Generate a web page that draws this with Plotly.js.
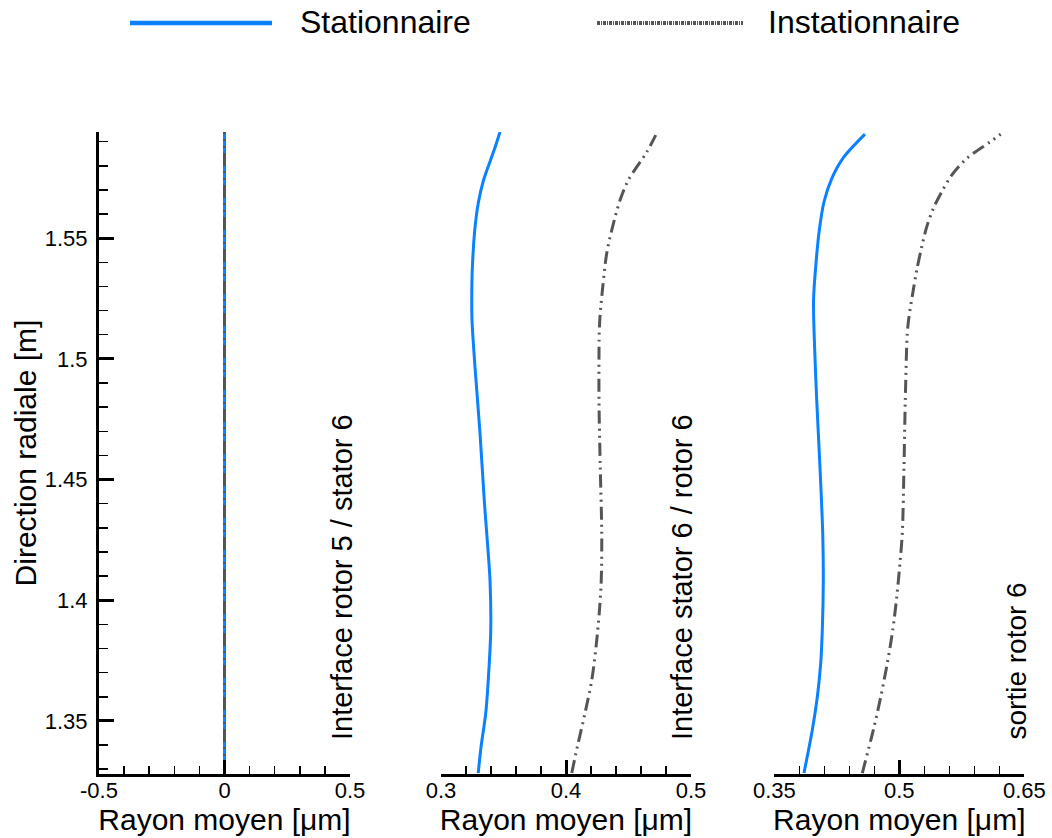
<!DOCTYPE html>
<html>
<head>
<meta charset="utf-8">
<script src="https://cdn.plot.ly/plotly-3.0.1.min.js"></script>
<style>html,body{margin:0;padding:0;background:#fff;}#chart{width:1052px;height:838px;}</style>
</head>
<body>
<div id="chart"></div>
<script>
// Panel 1: Interface rotor 5 / stator 6
const yS1 = [1.328, 1.40, 1.50, 1.594];
const xS1 = [0, 0, 0, 0];
const yU1 = [1.328, 1.40, 1.50, 1.594];
const xU1 = [0, 0, 0, 0];

// Panel 2: Interface stator 6 / rotor 6
const yS2 = [1.3284,1.3391,1.3532,1.3669,1.3876,1.4083,1.4249,1.4415,1.4692,1.4966,1.5160,1.5243,1.5367,1.5533,1.5645,1.5740,1.5865,1.594];
const xS2 = [0.3298,0.3320,0.3358,0.3378,0.3398,0.3392,0.3370,0.3346,0.3312,0.3272,0.3248,0.3246,0.3250,0.3270,0.3298,0.3340,0.3425,0.3472];
const yU2 = [1.3284,1.3391,1.3532,1.3669,1.3806,1.3947,1.4083,1.4278,1.4551,1.4829,1.5106,1.5174,1.5298,1.5438,1.5533,1.5657,1.5740,1.5857,1.5927];
const xU2 = [0.4046,0.4090,0.4152,0.4206,0.4240,0.4266,0.4282,0.4286,0.4274,0.4264,0.4266,0.4272,0.4294,0.4326,0.4366,0.4432,0.4498,0.4646,0.4718];

// Panel 3: sortie rotor 6
const yS3 = [1.3284,1.3462,1.3599,1.3739,1.3876,1.4083,1.4278,1.4551,1.4829,1.5036,1.5243,1.5395,1.5533,1.5650,1.5747,1.5830,1.5931];
const xS3 = [0.3856,0.3956,0.4016,0.4057,0.4076,0.4088,0.4081,0.4048,0.4009,0.3985,0.3971,0.4000,0.4040,0.4096,0.4189,0.4321,0.4588];
const yU3 = [1.3284,1.3462,1.3599,1.3739,1.3876,1.4013,1.4154,1.4278,1.4551,1.4829,1.5106,1.5174,1.5271,1.5367,1.5464,1.5547,1.5623,1.5692,1.5761,1.5830,1.5899,1.5931];
const xU3 = [0.4556,0.4688,0.4777,0.4856,0.4921,0.4969,0.5008,0.5036,0.5056,0.5072,0.5096,0.5116,0.5161,0.5209,0.5269,0.5329,0.5408,0.5509,0.5629,0.5809,0.6089,0.6217];

const seriesNames = ["Stationnaire", "Instationnaire"];
const panelLabels = ["Interface rotor 5 / stator 6", "Interface stator 6 / rotor 6", "sortie rotor 6"];
const xTitle = "Rayon moyen [\u03bcm]";
const yTitle = "Direction radiale [m]";

const BLUE = "#0a82ff";
const GREY = "#555555";
const FONT = "Liberation Sans, Arial, sans-serif";
const DASH = "13px,5px,2px,5px,2px,5px";
const stLine = {color: BLUE, width: 3, shape: "spline", smoothing: 0.9};
const unLine = {color: GREY, width: 3, dash: DASH, shape: "spline", smoothing: 0.9};

const traces = [
  {x: xS1, y: yS1, xaxis: "x", yaxis: "y", mode: "lines", line: {color: BLUE, width: 3}, name: seriesNames[0], showlegend: false},
  {x: xU1, y: yU1, xaxis: "x", yaxis: "y", mode: "lines", line: {color: GREY, width: 3, dash: DASH}, name: seriesNames[1], showlegend: false},
  {x: xS2, y: yS2, xaxis: "x2", yaxis: "y2", mode: "lines", line: stLine, name: seriesNames[0], showlegend: false},
  {x: xU2, y: yU2, xaxis: "x2", yaxis: "y2", mode: "lines", line: unLine, name: seriesNames[1], showlegend: false},
  {x: xS3, y: yS3, xaxis: "x3", yaxis: "y3", mode: "lines", line: stLine, name: seriesNames[0], showlegend: false},
  {x: xU3, y: yU3, xaxis: "x3", yaxis: "y3", mode: "lines", line: unLine, name: seriesNames[1], showlegend: false}
];

const W = 1052, H = 838;
const yDomain = [1 - 774 / H, 1 - 132 / H];
const yRange = [1.328, 1.594];

function xax(domainPx, range, tick0, minorDtick, ticktext, tickvals) {
  return {
    domain: [domainPx[0] / W, domainPx[1] / W],
    range: range,
    showline: true, linecolor: "black", linewidth: 3,
    ticks: "inside", ticklen: 14, tickwidth: 3, tickcolor: "black",
    tickmode: "array", tickvals: tickvals, ticktext: ticktext,
    minor: {ticks: "inside", ticklen: 8, tickwidth: 1.5, tickcolor: "black", dtick: minorDtick, tick0: tick0, showgrid: false},
    showgrid: false, zeroline: false,
    tickfont: {family: FONT, size: 22, color: "black"},
    ticklabelstandoff: -5,
    title: {text: xTitle, font: {family: FONT, size: 30, color: "black"}, standoff: 5},
    automargin: false,
    fixedrange: true
  };
}

const layout = {
  width: W, height: H,
  margin: {l: 0, r: 0, t: 0, b: 0},
  paper_bgcolor: "white", plot_bgcolor: "white",
  showlegend: false,
  font: {family: FONT, color: "black"},
  xaxis: xax([99, 350], [-0.5, 0.5], -0.5, 0.1, ["-0.5", "0", "0.5"], [-0.5, 0, 0.5]),
  xaxis2: Object.assign(xax([441, 691], [0.3, 0.5], 0.3, 0.02, ["0.3", "0.4", "0.5"], [0.3, 0.4, 0.5]), {anchor: "y2"}),
  xaxis3: Object.assign(xax([774.3, 1024.3], [0.35, 0.65], 0.35, 0.03, ["0.35", "0.5", "0.65"], [0.35, 0.5, 0.65]), {anchor: "y3"}),
  yaxis: {
    domain: yDomain, range: yRange, anchor: "x",
    showline: true, linecolor: "black", linewidth: 3,
    ticks: "inside", ticklen: 15, tickwidth: 3, tickcolor: "black",
    tickmode: "array", tickvals: [1.35, 1.4, 1.45, 1.5, 1.55], ticktext: ["1.35", "1.4", "1.45", "1.5", "1.55"],
    minor: {ticks: "inside", ticklen: 9, tickwidth: 1.5, tickcolor: "black", dtick: 0.01, tick0: 1.35, showgrid: false},
    showgrid: false, zeroline: false,
    tickfont: {family: FONT, size: 22, color: "black"},
    ticklabelstandoff: 4,
    title: {text: yTitle, font: {family: FONT, size: 30, color: "black"}, standoff: 0},
    automargin: false, fixedrange: true
  },
  yaxis2: {domain: yDomain, range: yRange, anchor: "x2", matches: "y", visible: false, fixedrange: true},
  yaxis3: {domain: yDomain, range: yRange, anchor: "x3", matches: "y", visible: false, fixedrange: true},
  annotations: [
    {text: panelLabels[0], xref: "paper", yref: "paper", x: 342 / W, y: 1 - 742 / H, xanchor: "center", yanchor: "bottom", textangle: -90, showarrow: false, font: {family: FONT, size: 29, color: "black"}},
    {text: panelLabels[1], xref: "paper", yref: "paper", x: 682 / W, y: 1 - 742 / H, xanchor: "center", yanchor: "bottom", textangle: -90, showarrow: false, font: {family: FONT, size: 29, color: "black"}},
    {text: panelLabels[2], xref: "paper", yref: "paper", x: 1016 / W, y: 1 - 742 / H, xanchor: "center", yanchor: "bottom", textangle: -90, showarrow: false, font: {family: FONT, size: 28, color: "black"}},
    {text: seriesNames[0], xref: "paper", yref: "paper", x: 298 / W, y: 1 - 22 / H, xanchor: "left", yanchor: "middle", showarrow: false, font: {family: FONT, size: 32, color: "black"}},
    {text: seriesNames[1], xref: "paper", yref: "paper", x: 766 / W, y: 1 - 22 / H, xanchor: "left", yanchor: "middle", showarrow: false, font: {family: FONT, size: 32, color: "black"}}
  ],
  shapes: [
    {type: "line", xref: "paper", yref: "paper", x0: 130 / W, x1: 272 / W, y0: 1 - 23 / H, y1: 1 - 23 / H, line: {color: BLUE, width: 4.5}},
    {type: "line", xref: "paper", yref: "paper", x0: 597 / W, x1: 743 / W, y0: 1 - 23 / H, y1: 1 - 23 / H, line: {color: GREY, width: 4, dash: "3px,1px,1px,1px"}}
  ]
};

Plotly.newPlot("chart", traces, layout, {displayModeBar: false, staticPlot: true});
</script>
</body>
</html>
